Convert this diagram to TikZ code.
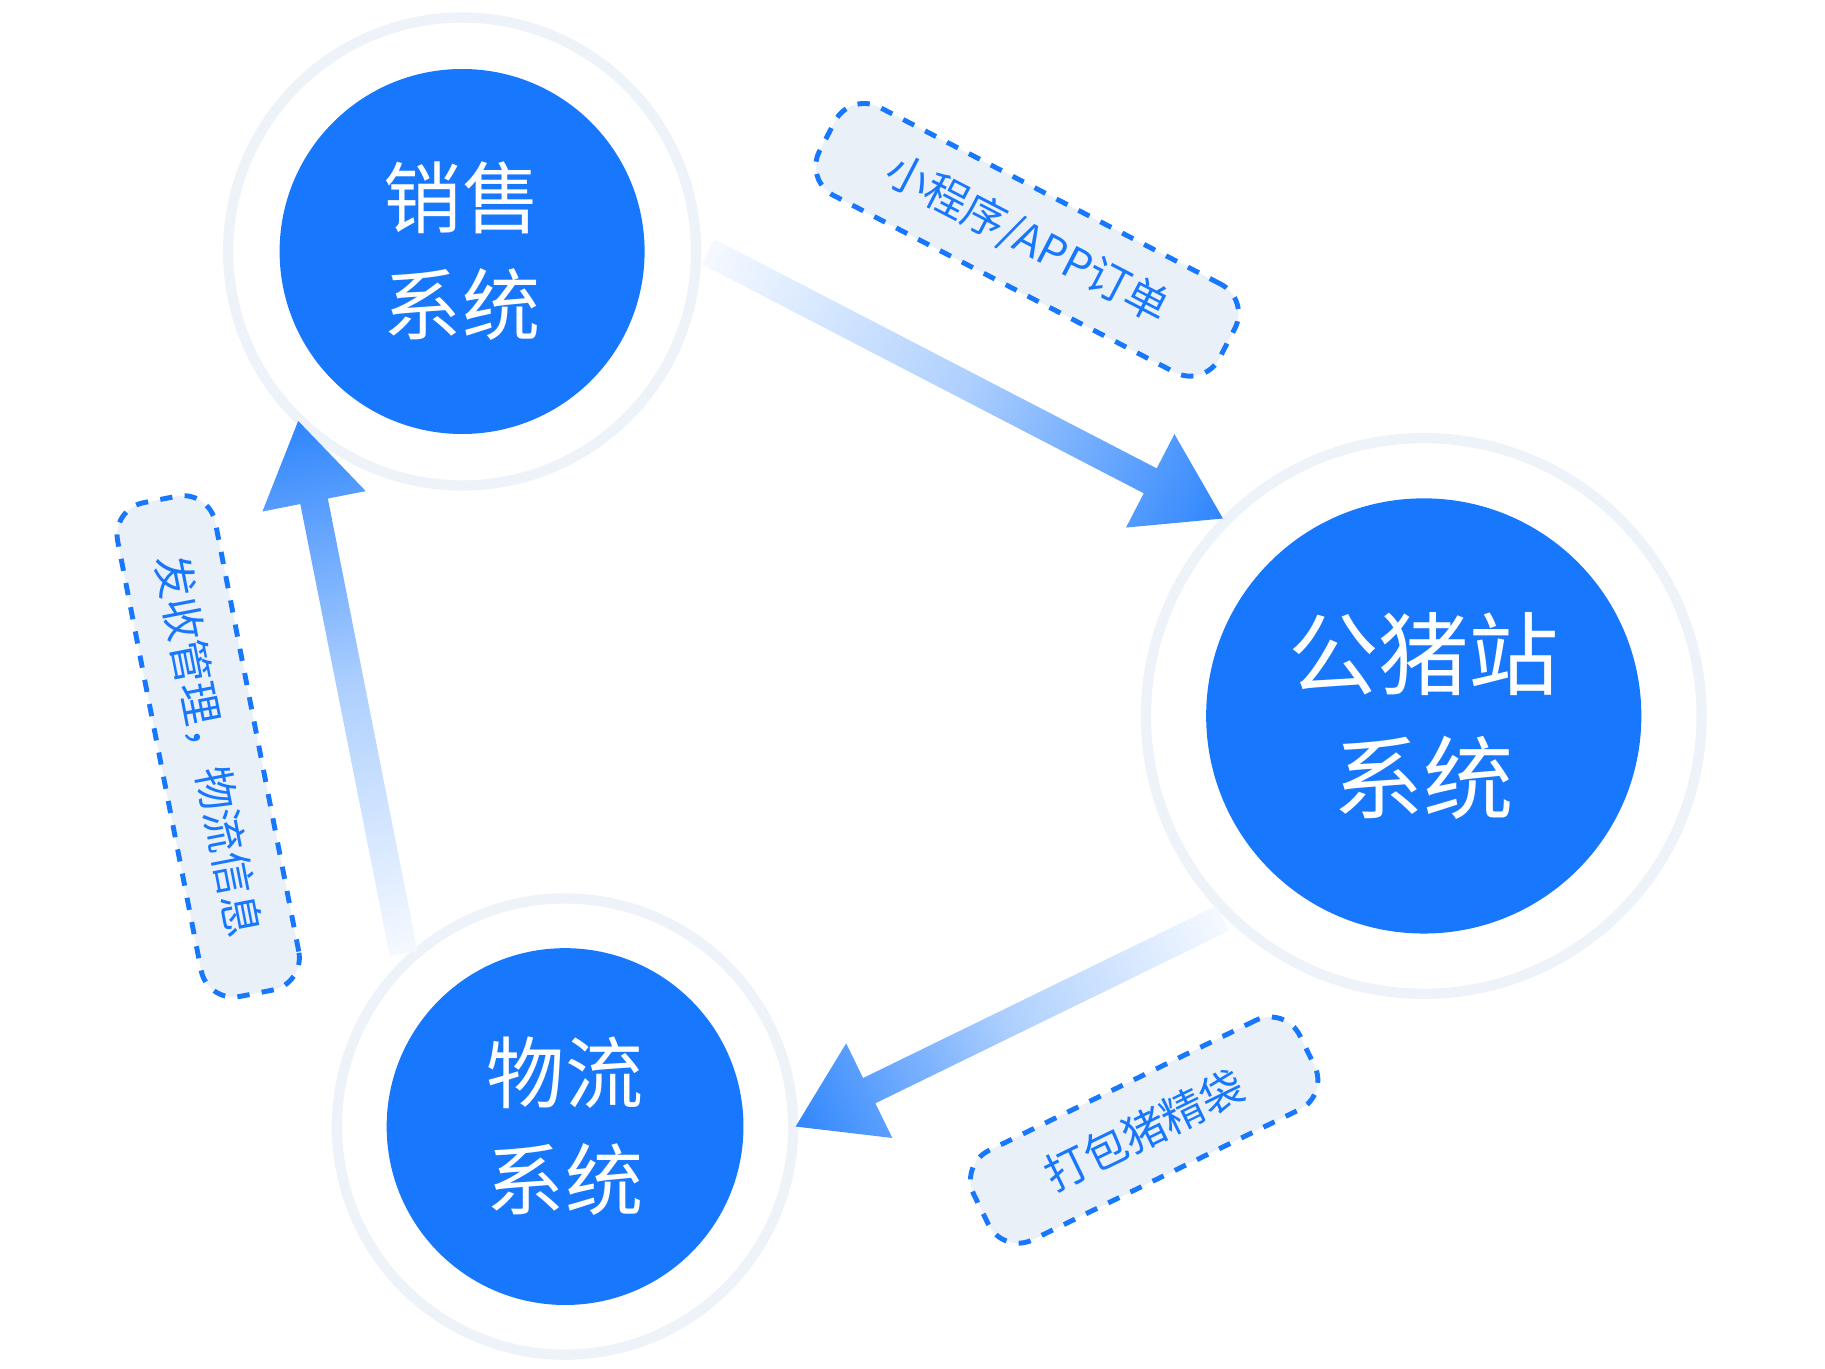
\documentclass[tikz,border=0pt]{standalone}
\usepackage{fontspec}
\setmainfont{Noto Sans CJK SC}
\definecolor{sysblue}{HTML}{1878FD}
\definecolor{tagfill}{HTML}{EAF0F8}
\definecolor{ringline}{HTML}{EEF3FA}
\tikzset{
  ring/.style={circle,fill=white,draw=ringline,line width=2.5pt},
  sys/.style={circle,fill=sysblue,text=white,align=center,inner sep=0pt,font=\fontsize{19}{26}\selectfont},
  tag/.style={rectangle,rounded corners=8pt,draw=sysblue,dashed,line width=1.2pt,fill=tagfill,text=sysblue,font=\fontsize{10.5}{12}\selectfont,minimum height=0.85cm,inner xsep=12pt}
}
% flow arrow: start point, angle, length
\newcommand{\flowarrow}[3]{%
  \begin{scope}[transform canvas={shift={(#1)},rotate=#2}]
    \shade[left color=sysblue!4,right color=sysblue!90,middle color=sysblue!35]
      (0,-0.12) -- (#3-0.7,-0.12) -- (#3-0.7,-0.45) -- (#3,0)
      -- (#3-0.7,0.45) -- (#3-0.7,0.12) -- (0,0.12) -- cycle;
  \end{scope}}
\begin{document}
\begin{tikzpicture}
\useasboundingbox (0,0) rectangle (15.6,11.7);
% outer rings
\node[ring,minimum size=4.0cm] (salesring) at (3.95,9.55) {};
\node[ring,minimum size=4.75cm] (stationring) at (12.17,5.58) {};
\node[ring,minimum size=3.9cm] (logring) at (4.83,2.07) {};
% arrows
\coordinate (a1) at (6.05,9.55);
\coordinate (a2) at (10.45,3.85);
\coordinate (a3) at (3.45,3.55);
\flowarrow{a1}{-27.4}{4.96}
\flowarrow{a2}{206}{4.06}
\flowarrow{a3}{101.2}{4.64}
% systems
\node[sys,minimum size=3.12cm] (sales) at (salesring) {销售\\系统};
\node[sys,minimum size=3.72cm,font=\fontsize{22}{30}\selectfont] (station) at (stationring) {公猪站\\系统};
\node[sys,minimum size=3.05cm] (logistics) at (logring) {物流\\系统};
% labels
\node[tag,rotate=-27.4,minimum width=3.85cm] (order) at (8.78,9.65) {小程序/APP订单};
\node[tag,rotate=26,minimum width=3.1cm] (pack) at (9.78,2.04) {打包猪精袋};
\node[tag,rotate=-79,minimum width=4.3cm] (track) at (1.78,5.32) {发收管理，物流信息};
\end{tikzpicture}
\end{document}
